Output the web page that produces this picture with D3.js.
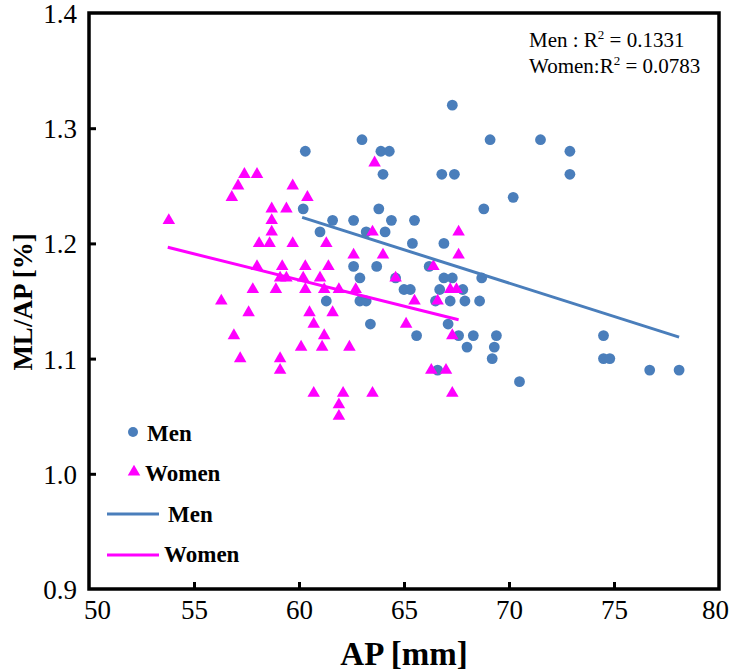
<!DOCTYPE html>
<html><head><meta charset="utf-8">
<script src="https://cdn.jsdelivr.net/npm/d3@7"></script>
<style>body{margin:0;background:#fff}svg{display:block}</style>
</head><body>
<svg id="c" width="731" height="671"></svg>
<script>
const menAP = [67.3,63.0,69.1,71.5,60.3,63.9,64.3,72.9,64.0,66.8,67.4,72.9,70.2,60.2,63.8,68.8,61.6,62.6,64.4,65.5,61.0,63.2,64.1,65.4,66.9,62.6,63.7,66.2,62.9,64.6,66.9,67.3,68.7,65.0,65.3,66.7,67.8,61.3,62.9,63.2,66.5,67.2,67.9,68.6,63.4,67.1,65.6,67.6,68.3,69.4,74.5,68.0,69.3,69.2,74.5,74.8,66.6,76.7,78.1,70.5];
const menRatio = [1.32,1.29,1.29,1.29,1.28,1.28,1.28,1.28,1.26,1.26,1.26,1.26,1.24,1.23,1.23,1.23,1.22,1.22,1.22,1.22,1.21,1.21,1.21,1.20,1.20,1.18,1.18,1.18,1.17,1.17,1.17,1.17,1.17,1.16,1.16,1.16,1.16,1.15,1.15,1.15,1.15,1.15,1.15,1.15,1.13,1.13,1.12,1.12,1.12,1.12,1.12,1.11,1.11,1.10,1.10,1.10,1.09,1.09,1.09,1.08];
const womenAP = [53.8,57.4,58.0,57.1,59.7,56.8,60.4,63.6,58.7,59.4,58.7,58.7,63.5,67.6,58.1,58.6,59.7,61.3,62.6,64.0,67.6,58.0,59.2,60.3,61.4,66.4,59.1,59.4,60.2,61.0,64.6,57.8,58.9,60.3,61.2,61.9,62.7,67.2,67.5,56.3,65.5,66.6,57.6,60.5,61.6,60.7,65.1,56.9,61.2,67.3,60.1,61.1,62.4,57.2,59.1,59.1,66.3,67.0,60.7,62.1,63.5,67.3,61.9,61.9];
const womenRatio = [1.22,1.26,1.26,1.25,1.25,1.24,1.24,1.27,1.23,1.23,1.22,1.21,1.21,1.21,1.20,1.20,1.20,1.20,1.19,1.19,1.19,1.18,1.18,1.18,1.18,1.18,1.17,1.17,1.17,1.17,1.17,1.16,1.16,1.16,1.16,1.16,1.16,1.16,1.16,1.15,1.15,1.15,1.14,1.14,1.14,1.13,1.13,1.12,1.12,1.12,1.11,1.11,1.11,1.10,1.10,1.09,1.09,1.09,1.07,1.07,1.07,1.07,1.06,1.05];
const menTrendAP = [60.15, 78.1];
const menTrendRatio = [1.2226, 1.1186];
const womenTrendAP = [53.75, 67.6];
const womenTrendRatio = [1.1966, 1.1337];
const xTicks = [50,55,60,65,70,75,80];
const yTicks = [0.9,1.0,1.1,1.2,1.3,1.4];
const legendLabels = ["Men","Women","Men","Women"];

const BLUE = "#4a7ebb", MAG = "#ff00ff";
const L = 89, R = 719, T = 13, B = 589;
const svg = d3.select("#c");
const x = d3.scaleLinear().domain([50,80]).range([L,R]);
const y = d3.scaleLinear().domain([0.9,1.4]).range([B,T]);
const serif = "'Liberation Serif','Times New Roman',serif";

// points
const men = menAP.map((a,i)=>({x:a,y:menRatio[i]}));
const women = womenAP.map((a,i)=>({x:a,y:womenRatio[i]}));
svg.append("g").selectAll("circle").data(men).join("circle")
  .attr("cx",d=>x(d.x)).attr("cy",d=>y(d.y)).attr("r",5.4).attr("fill",BLUE);
const tri = d3.symbol().type(d3.symbolTriangle).size(68);
svg.append("g").selectAll("path").data(women).join("path")
  .attr("d",tri).attr("transform",d=>`translate(${x(d.x)},${y(d.y)})`).attr("fill",MAG);

// trend lines
const line = d3.line().x(d=>x(d[0])).y(d=>y(d[1]));
svg.append("path").attr("d",line(menTrendAP.map((a,i)=>[a,menTrendRatio[i]])))
  .attr("stroke",BLUE).attr("stroke-width",3).attr("fill","none");
svg.append("path").attr("d",line(womenTrendAP.map((a,i)=>[a,womenTrendRatio[i]])))
  .attr("stroke",MAG).attr("stroke-width",3).attr("fill","none");

// axes
const xa = svg.append("g").attr("transform",`translate(0,${B})`)
  .call(d3.axisBottom(x).tickValues(xTicks).tickSizeInner(-7).tickSizeOuter(0).tickPadding(11).tickFormat(d3.format("d")));
const ya = svg.append("g").attr("transform",`translate(${L},0)`)
  .call(d3.axisLeft(y).tickValues(yTicks).tickSizeInner(-7).tickSizeOuter(0).tickPadding(12).tickFormat(d3.format(".1f")));
[xa,ya].forEach(g=>{
  g.select(".domain").remove();
  g.selectAll("line").attr("stroke","#000").attr("stroke-width",3);
  g.selectAll("text").attr("font-family",serif).attr("font-size",27).attr("fill","#000");
});
xa.selectAll(".tick").filter(d=>d===50||d===80).select("line").remove();
xa.selectAll(".tick").filter(d=>d===50).select("text").attr("dx",8);
xa.selectAll(".tick").filter(d=>d===80).select("text").attr("dx",-4);
ya.selectAll(".tick").filter(d=>d===0.9||d===1.4).select("line").remove();
ya.selectAll("text").attr("dy","0.35em");
svg.append("rect").attr("x",L).attr("y",T).attr("width",R-L).attr("height",B-T)
  .attr("fill","none").attr("stroke","#000").attr("stroke-width",3.5);

// axis titles
svg.append("text").attr("x",404).attr("y",665).attr("text-anchor","middle")
  .attr("font-family",serif).attr("font-weight","bold").attr("font-size",33).text("AP [mm]");
svg.append("text").attr("transform",`translate(32,302) rotate(-90)`).attr("text-anchor","middle")
  .attr("font-family",serif).attr("font-weight","bold").attr("font-size",27).text("ML/AP [%]");

// R2 text
const r2 = svg.append("g").attr("font-family",serif).attr("font-size",21).attr("fill","#000");
const t1 = r2.append("text").attr("x",529).attr("y",47);
t1.append("tspan").text("Men : R");
t1.append("tspan").attr("font-size",13).attr("dy",-8).text("2");
t1.append("tspan").attr("dy",8).text(" = 0.1331");
const t2 = r2.append("text").attr("x",529).attr("y",73);
t2.append("tspan").text("Women:R");
t2.append("tspan").attr("font-size",13).attr("dy",-8).text("2");
t2.append("tspan").attr("dy",8).text(" = 0.0783");

// legend
const lg = svg.append("g").attr("font-family",serif).attr("font-weight","bold").attr("font-size",23);
lg.append("circle").attr("cx",133).attr("cy",432).attr("r",5).attr("fill",BLUE);
lg.append("text").attr("x",147).attr("y",441).text(legendLabels[0]);
lg.append("path").attr("d",tri).attr("transform","translate(134,472)").attr("fill",MAG);
lg.append("text").attr("x",145).attr("y",481).text(legendLabels[1]);
lg.append("line").attr("x1",107).attr("x2",159).attr("y1",514).attr("y2",514).attr("stroke",BLUE).attr("stroke-width",3);
lg.append("text").attr("x",168).attr("y",522).text(legendLabels[2]);
lg.append("line").attr("x1",107).attr("x2",159).attr("y1",555).attr("y2",555).attr("stroke",MAG).attr("stroke-width",3);
lg.append("text").attr("x",164).attr("y",562).text(legendLabels[3]);
</script>
</body></html>
